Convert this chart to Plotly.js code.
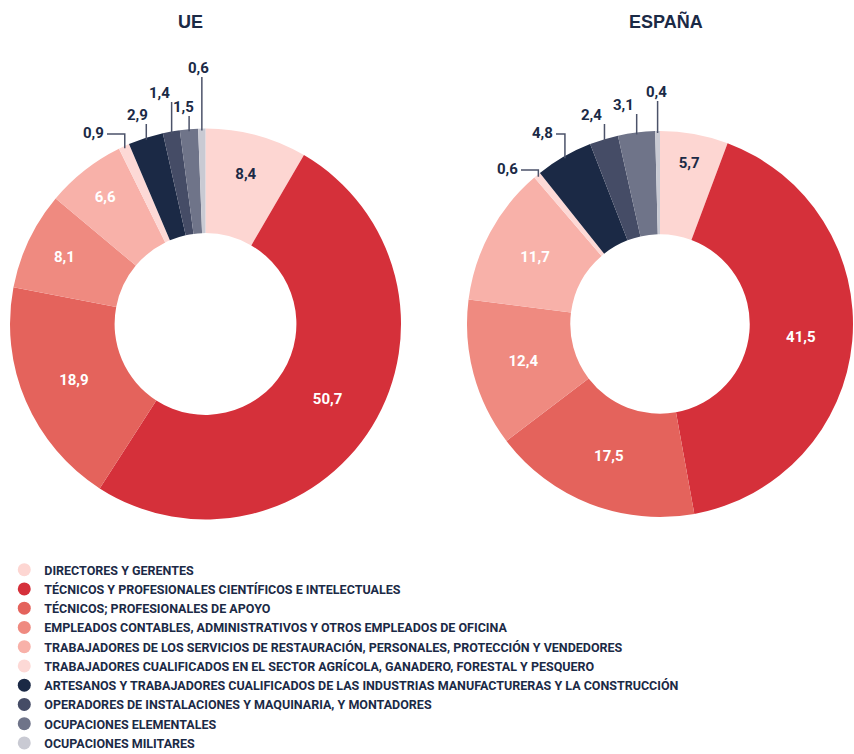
<!DOCTYPE html>
<html><head><meta charset="utf-8">
<script src="https://cdn.plot.ly/plotly-3.0.1.min.js"></script>
<style>html,body{margin:0;padding:0;background:#fff}</style>
</head><body><div id="chart" style="width:854px;height:754px"></div>
<script>
const categories = [
  'DIRECTORES Y GERENTES',
  'TÉCNICOS Y PROFESIONALES CIENTÍFICOS E INTELECTUALES',
  'TÉCNICOS; PROFESIONALES DE APOYO',
  'EMPLEADOS CONTABLES, ADMINISTRATIVOS Y OTROS EMPLEADOS DE OFICINA',
  'TRABAJADORES DE LOS SERVICIOS DE RESTAURACIÓN, PERSONALES, PROTECCIÓN Y VENDEDORES',
  'TRABAJADORES CUALIFICADOS EN EL SECTOR AGRÍCOLA, GANADERO, FORESTAL Y PESQUERO',
  'ARTESANOS Y TRABAJADORES CUALIFICADOS DE LAS INDUSTRIAS MANUFACTURERAS Y LA CONSTRUCCIÓN',
  'OPERADORES DE INSTALACIONES Y MAQUINARIA, Y MONTADORES',
  'OCUPACIONES ELEMENTALES',
  'OCUPACIONES MILITARES'
];
const ueValues = [8.4, 50.7, 18.9, 8.1, 6.6, 0.9, 2.9, 1.4, 1.5, 0.6];
const esValues = [5.7, 41.5, 17.5, 12.4, 11.7, 0.6, 4.8, 2.4, 3.1, 0.4];
const chartTitles = ['UE', 'ESPAÑA'];

const colors = ['#fdd6d2', '#d5303a', '#e4635c', '#ef8a80', '#f8b1a9', '#fdd9d6',
                '#1b2945', '#454c66', '#6f7489', '#c9cad3'];
const NAVY = '#1b2a46';
const textColors = [NAVY, '#ffffff', '#ffffff', '#ffffff', '#ffffff', NAVY, NAVY, NAVY, NAVY, NAVY];
const W = 854, H = 754;
const NUM_FONT = 'Roboto, Liberation Sans, Arial, sans-serif';

// pie placement (pixels)
const pies = [
  {values: ueValues, title: chartTitles[0], box: [10, 401, 128, 520], titlePos: [190, 22],
   outside: {5: {x: 93, y: 133, elbow: true}, 6: {x: 137, y: 115}, 7: {x: 159, y: 93}, 8: {x: 183, y: 107}, 9: {x: 198, y: 68}}},
  {values: esValues, title: chartTitles[1], box: [467, 853, 128, 520], titlePos: [666, 22],
   outside: {5: {x: 507, y: 169, elbow: true}, 6: {x: 542, y: 133, elbow: true}, 7: {x: 591, y: 115}, 8: {x: 623, y: 105}, 9: {x: 656, y: 92}}}
];

const fmt = v => v.toFixed(1).replace('.', ',');
const px2x = p => p / W;
const px2y = p => 1 - p / H;

const traces = [];
const shapes = [];
const annotations = [];

pies.forEach(p => {
  const [x0, x1, y0, y1] = p.box;
  const positions = p.values.map((v, i) => p.outside[i] ? 'none' : 'inside');
  traces.push({
    type: 'pie', values: p.values, labels: categories, sort: false,
    direction: 'clockwise', rotation: 0, hole: 0.465,
    domain: {x: [px2x(x0), px2x(x1)], y: [px2y(y1), px2y(y0)]},
    marker: {colors: colors, line: {width: 0}},
    textposition: positions, insidetextorientation: 'horizontal',
    texttemplate: '%{value:.1f}', textinfo: 'value',
    textfont: {family: NUM_FONT, size: 15, weight: 'bold', color: textColors},
    showlegend: false, hoverinfo: 'label+value'
  });
  annotations.push({
    xref: 'paper', yref: 'paper', x: px2x(p.titlePos[0]), y: px2y(p.titlePos[1]),
    text: p.title, showarrow: false, xanchor: 'center', yanchor: 'middle',
    font: {family: 'Liberation Sans, Arial, sans-serif', size: 18, weight: 'bold', color: NAVY}
  });
  // leader lines + outside labels for small slices
  const cx = (x0 + x1) / 2, cy = (y0 + y1) / 2;
  const R = Math.min(x1 - x0, y1 - y0) / 2;
  const total = p.values.reduce((a, b) => a + b, 0);
  let cum = 0;
  p.values.forEach((v, i) => {
    const mid = (cum + v / 2) / total * 2 * Math.PI;
    cum += v;
    const lab = p.outside[i];
    if (!lab) return;
    const ex = cx + (R - 2) * Math.sin(mid), ey = cy - (R - 2) * Math.cos(mid);
    let path;
    if (lab.elbow) {
      const hy = lab.y + 1;
      path = `M ${px2x(lab.x + 14)},${px2y(hy)} L ${px2x(ex)},${px2y(hy)} L ${px2x(ex)},${px2y(ey)}`;
    } else {
      path = `M ${px2x(ex)},${px2y(lab.y + 9)} L ${px2x(ex)},${px2y(ey)}`;
    }
    shapes.push({type: 'path', xref: 'paper', yref: 'paper', path: path,
                 line: {color: '#4b5269', width: 1.5}});
    annotations.push({
      xref: 'paper', yref: 'paper', x: px2x(lab.x), y: px2y(lab.y),
      text: fmt(v), showarrow: false, xanchor: 'center', yanchor: 'middle',
      font: {family: NUM_FONT, size: 15, weight: 'bold', color: NAVY}
    });
  });
});

// legend entries (circle markers)
categories.forEach((c, i) => {
  traces.push({
    type: 'scatter', mode: 'markers', x: [null], y: [null], name: c,
    marker: {symbol: 'circle', size: 13, color: colors[i]},
    showlegend: true, hoverinfo: 'skip'
  });
});

const layout = {
  width: W, height: H, margin: {l: 0, r: 0, t: 0, b: 0, autoexpand: false},
  paper_bgcolor: '#ffffff', plot_bgcolor: 'rgba(0,0,0,0)',
  separators: ', ',
  xaxis: {visible: false, domain: [0, 0.01]}, yaxis: {visible: false, domain: [0, 0.01]},
  showlegend: true,
  legend: {x: 0.005, y: px2y(555), xanchor: 'left', yanchor: 'top', orientation: 'v',
           itemwidth: 30, tracegroupgap: 0, bgcolor: 'rgba(0,0,0,0)',
           font: {family: NUM_FONT, size: 12.5, weight: 'bold', color: NAVY}},
  shapes: shapes, annotations: annotations
};

Plotly.newPlot('chart', traces, layout, {displayModeBar: false, staticPlot: true});
</script></body></html>
